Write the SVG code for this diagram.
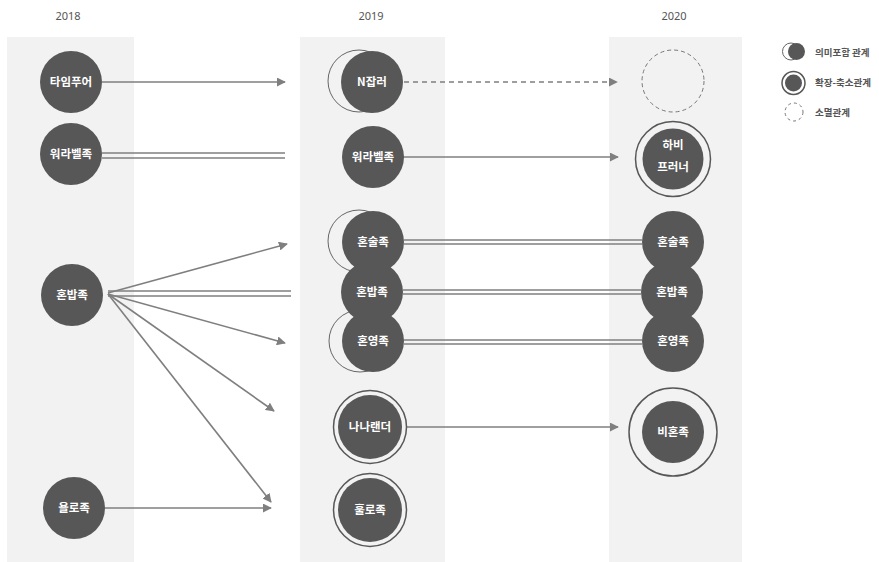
<svg xmlns="http://www.w3.org/2000/svg" width="879" height="562" viewBox="0 0 879 562">
<defs>
<marker id="ah" viewBox="0 0 10 10" refX="9" refY="5" markerWidth="9" markerHeight="9" markerUnits="userSpaceOnUse" orient="auto">
<path d="M0,0 L10,5 L0,10 z" fill="#7f7f7f"/>
</marker>
<style>
.panel{fill:#f2f2f2}
.year{font-family:"Noto Sans","Noto Sans CJK KR",sans-serif;font-size:11px;fill:#555;text-anchor:middle}
.dot{fill:#575757}
.ring{fill:none;stroke:#575757;stroke-width:1.5}
.half{fill:none;stroke:#666;stroke-width:1}
.dash{fill:none;stroke:#777;stroke-width:1;stroke-dasharray:4 3}
.lbl{font-family:"Noto Sans CJK KR",sans-serif;font-size:11.5px;font-weight:bold;fill:#fff;text-anchor:middle}
.ln{stroke:#7f7f7f;stroke-width:1.6;fill:none}
.dl{stroke:#7f7f7f;stroke-width:1.4;fill:none;stroke-dasharray:5 4}
.leg{font-family:"Noto Sans CJK KR",sans-serif;font-size:9.5px;font-weight:bold;fill:#555}
</style>
</defs>
<rect class="panel" x="7" y="37" width="127" height="525"/>
<rect class="panel" x="300" y="37" width="145" height="525"/>
<rect class="panel" x="609" y="37" width="133" height="525"/>
<text class="year" x="68" y="20">2018</text>
<text class="year" x="371" y="20">2019</text>
<text class="year" x="674" y="20">2020</text>

<g id="connectors">
<line class="ln" x1="102" y1="82" x2="285" y2="82" marker-end="url(#ah)"/>
<line class="ln" x1="102" y1="153" x2="285" y2="153"/>
<line class="ln" x1="102" y1="158" x2="285" y2="158"/>
<line class="dl" x1="404" y1="82" x2="617" y2="82" marker-end="url(#ah)"/>
<line class="ln" x1="403" y1="157" x2="618" y2="157" marker-end="url(#ah)"/>
<line class="ln" x1="108" y1="293" x2="287" y2="244" marker-end="url(#ah)"/>
<line class="ln" x1="108" y1="291" x2="291" y2="291"/>
<line class="ln" x1="108" y1="296" x2="291" y2="296"/>
<line class="ln" x1="108" y1="294" x2="285" y2="343" marker-end="url(#ah)"/>
<line class="ln" x1="108" y1="294" x2="274" y2="411" marker-end="url(#ah)"/>
<line class="ln" x1="108" y1="294" x2="271" y2="502" marker-end="url(#ah)"/>
<line class="ln" x1="105" y1="508" x2="271" y2="508" marker-end="url(#ah)"/>
<line class="ln" x1="404" y1="240" x2="642" y2="240"/>
<line class="ln" x1="404" y1="244" x2="642" y2="244"/>
<line class="ln" x1="403" y1="290" x2="641" y2="290"/>
<line class="ln" x1="403" y1="294" x2="641" y2="294"/>
<line class="ln" x1="404" y1="340" x2="642" y2="340"/>
<line class="ln" x1="404" y1="344" x2="642" y2="344"/>
<line class="ln" x1="407" y1="427" x2="618" y2="427" marker-end="url(#ah)"/>
</g>

<g id="n2018-timepoor"><circle class="dot" cx="71" cy="82" r="31"/><text class="lbl" x="71" y="86">타임푸어</text></g>
<g id="n2018-worklife"><circle class="dot" cx="71" cy="154" r="31"/><text class="lbl" x="71" y="158">워라벨족</text></g>
<g id="n2018-honbap"><circle class="dot" cx="72" cy="295" r="31"/><text class="lbl" x="72" y="299">혼밥족</text></g>
<g id="n2018-yolo"><circle class="dot" cx="74" cy="508" r="31"/><text class="lbl" x="74" y="512">욜로족</text></g>

<g id="n2019-njob"><circle class="half" cx="359" cy="81" r="31"/><circle class="dot" cx="372" cy="82" r="31"/><text class="lbl" x="372" y="86">N잡러</text></g>
<g id="n2019-worklife"><circle class="dot" cx="373" cy="157" r="31"/><text class="lbl" x="373" y="161">워라벨족</text></g>
<g id="n2019-honsul"><circle class="half" cx="359" cy="241" r="31"/><circle class="dot" cx="373" cy="242" r="31"/><text class="lbl" x="373" y="246">혼술족</text></g>
<g id="n2019-honyeong"><circle class="half" cx="360" cy="341" r="31"/><circle class="dot" cx="373" cy="341" r="31"/><text class="lbl" x="373" y="345">혼영족</text></g>
<g id="n2019-honbap"><circle class="dot" cx="372" cy="292" r="31"/><text class="lbl" x="372" y="296">혼밥족</text></g>
<g id="n2019-nanaland"><circle class="ring" cx="370" cy="427" r="36.5"/><circle class="dot" cx="370" cy="427" r="32"/><text class="lbl" x="370" y="431">나나랜더</text></g>
<g id="n2019-hollo"><circle class="ring" cx="370" cy="510" r="36.5"/><circle class="dot" cx="370" cy="510" r="32"/><text class="lbl" x="370" y="514">훌로족</text></g>

<g id="n2020-gone"><circle class="dash" cx="673" cy="81" r="31"/></g>
<g id="n2020-hobby"><circle class="ring" cx="673" cy="159" r="37.5"/><circle class="dot" cx="673" cy="159" r="30.5"/><text class="lbl" x="673" y="149">하비</text><text class="lbl" x="673" y="171">프러너</text></g>
<g id="n2020-honsul"><circle class="dot" cx="673" cy="242" r="31"/><text class="lbl" x="673" y="246">혼술족</text></g>
<g id="n2020-honyeong"><circle class="dot" cx="673" cy="341" r="31"/><text class="lbl" x="673" y="345">혼영족</text></g>
<g id="n2020-honbap"><circle class="dot" cx="672" cy="292" r="31"/><text class="lbl" x="672" y="296">혼밥족</text></g>
<g id="n2020-bihon"><circle class="ring" cx="673" cy="432" r="44"/><circle class="dot" cx="673" cy="432" r="31"/><text class="lbl" x="673" y="436">비혼족</text></g>

<g id="legend">
<circle class="half" cx="791" cy="51.5" r="8.5"/><circle class="dot" cx="796.5" cy="51.5" r="8.5"/>
<text class="leg" x="815" y="56">의미포함 관계</text>
<circle class="ring" cx="793.5" cy="83" r="11.5"/><circle class="dot" cx="793.5" cy="83" r="8.5"/>
<text class="leg" x="815" y="86">확장-축소관계</text>
<circle class="dash" cx="794" cy="112" r="9" style="stroke-dasharray:3 3"/>
<text class="leg" x="815" y="116">소멸관계</text>
</g>
</svg>
